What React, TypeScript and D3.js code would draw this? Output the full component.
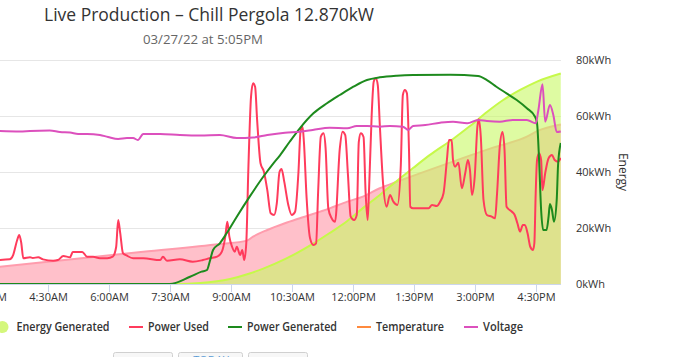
import React from "react";
import * as d3 from "d3";

type Pt = [string, number];

// Cumulative energy used (kWh) – pink area (legend item cropped off)
const energyUsed: Pt[] = [
  ["03:16", 6.1], ["06:51", 11.5], ["08:44", 14.3], ["09:24", 15.5], ["09:33", 16.9],
  ["09:54", 19.3], ["10:20", 21.7], ["10:42", 23.5], ["11:26", 27.0], ["11:52", 29.4],
  ["12:15", 31.2], ["12:40", 34.2], ["13:05", 36.5], ["13:39", 39.5], ["14:38", 44.6],
  ["15:27", 48.7], ["16:17", 52.6], ["16:32", 54.6], ["17:07", 57.0],
];

// Cumulative energy generated (kWh)
const energyGenerated: Pt[] = [
  ["03:16", 0], ["07:38", 0], ["08:15", 0.36], ["08:59", 1.8], ["09:28", 3.75],
  ["09:48", 5.5], ["10:20", 8.9], ["10:38", 11.1], ["11:01", 14.3], ["11:26", 18.2],
  ["11:52", 22.5], ["12:15", 27.1], ["12:40", 31.8], ["13:05", 36.8], ["13:29", 41.4],
  ["13:54", 46.1], ["14:28", 51.8], ["14:53", 56.4], ["15:18", 61.4], ["15:42", 65.7],
  ["16:07", 69.3], ["16:32", 72.3], ["17:07", 75.2],
];

// Power used (kW)
const powerUsed: Pt[] = [
  ["03:16", 1.71], ["03:34", 1.76], ["03:39", 2.07], ["03:45", 3.14], ["03:48", 3.5],
  ["03:51", 2.93], ["03:54", 1.84], ["04:04", 1.91], ["04:08", 1.86], ["04:16", 1.91],
  ["04:23", 1.76], ["04:38", 1.66], ["04:45", 1.71], ["04:53", 2.0], ["05:03", 1.91],
  ["05:07", 2.29], ["05:21", 2.29], ["05:28", 1.95], ["05:37", 1.95], ["05:47", 1.84],
  ["05:58", 1.84], ["06:06", 1.95], ["06:11", 2.64], ["06:14", 4.57], ["06:17", 3.64],
  ["06:21", 2.21], ["06:27", 2.02], ["06:36", 1.84], ["06:51", 1.84], ["07:16", 1.71],
  ["07:20", 1.95], ["07:26", 1.66], ["07:45", 1.76], ["08:04", 1.59], ["08:19", 1.71],
  ["08:29", 1.84], ["08:40", 1.95], ["08:47", 2.31], ["08:52", 3.38], ["08:55", 4.45],
  ["08:58", 3.38], ["09:02", 2.66], ["09:06", 2.31], ["09:09", 2.66], ["09:14", 2.07],
  ["09:17", 2.43], ["09:20", 1.71], ["09:23", 2.93], ["09:26", 8.14], ["09:30", 13.38],
  ["09:33", 14.34], ["09:36", 14.09], ["09:39", 11.71], ["09:44", 8.62], ["09:49", 8.02],
  ["09:54", 6.71], ["09:59", 5.05], ["10:04", 4.93], ["10:08", 5.76], ["10:12", 8.0],
  ["10:15", 8.21], ["10:19", 7.31], ["10:25", 5.64], ["10:30", 4.93], ["10:35", 5.16],
  ["10:40", 8.02], ["10:43", 10.88], ["10:46", 11.24], ["10:48", 10.16], ["10:52", 6.14],
  ["10:57", 3.29], ["11:02", 2.79], ["11:06", 2.91], ["11:09", 6.59], ["11:13", 10.52],
  ["11:17", 10.76], ["11:20", 9.71], ["11:24", 5.41], ["11:29", 4.69], ["11:34", 4.45],
  ["11:41", 9.69], ["11:45", 10.88], ["11:49", 10.64], ["11:53", 7.79], ["11:57", 4.81],
  ["12:02", 4.57], ["12:06", 4.93], ["12:09", 10.16], ["12:12", 10.76], ["12:16", 10.5],
  ["12:19", 6.59], ["12:22", 4.57], ["12:24", 6.57], ["12:28", 12.07], ["12:31", 14.45],
  ["12:34", 14.69], ["12:37", 14.21], ["12:40", 11.36], ["12:45", 7.07], ["12:50", 5.52],
  ["12:55", 6.36], ["13:00", 5.88], ["13:06", 5.64], ["13:11", 8.5], ["13:14", 13.5],
  ["13:17", 13.86], ["13:20", 13.62], ["13:23", 9.69], ["13:25", 5.52], ["13:29", 5.41],
  ["13:39", 5.41], ["13:52", 5.41], ["13:57", 5.64], ["14:04", 5.57], ["14:09", 5.88],
  ["14:14", 6.48], ["14:19", 8.86], ["14:22", 10.29], ["14:26", 10.29], ["14:28", 8.86],
  ["14:31", 8.38], ["14:36", 8.66], ["14:41", 6.84], ["14:46", 7.91], ["14:50", 8.86],
  ["14:53", 8.14], ["14:56", 6.36], ["15:00", 7.66], ["15:04", 11.24], ["15:06", 11.76],
  ["15:09", 10.52], ["15:13", 6.0], ["15:18", 4.93], ["15:25", 4.81], ["15:30", 4.69],
  ["15:33", 6.48], ["15:37", 9.81], ["15:41", 10.86], ["15:44", 9.57], ["15:47", 5.52],
  ["15:55", 5.16], ["15:59", 4.93], ["16:03", 4.34], ["16:07", 3.74], ["16:11", 4.21],
  ["16:14", 4.21], ["16:18", 3.62], ["16:22", 2.66], ["16:26", 2.43], ["16:28", 2.91],
  ["16:30", 6.48], ["16:32", 8.86], ["16:35", 9.34], ["16:38", 8.86], ["16:40", 6.71],
  ["16:44", 7.91], ["16:49", 8.98], ["16:54", 9.21], ["16:58", 8.86], ["17:03", 8.74],
  ["17:07", 9.0],
];

// Power generated (kW)
const powerGenerated: Pt[] = [
  ["03:16", 0], ["07:30", 0], ["08:00", 0.52], ["08:17", 0.88], ["08:25", 1.0],
  ["08:29", 1.59], ["08:34", 2.43], ["08:44", 2.91], ["08:54", 3.62], ["09:09", 4.81],
  ["09:28", 6.24], ["09:48", 7.66], ["10:03", 8.62], ["10:13", 9.21], ["10:27", 10.16],
  ["10:42", 11.12], ["11:02", 12.19], ["11:22", 12.91], ["11:41", 13.5], ["12:01", 14.09],
  ["12:21", 14.57], ["12:40", 14.76], ["13:05", 14.88], ["13:29", 14.93], ["14:24", 14.95],
  ["15:05", 14.86], ["15:18", 14.57], ["15:32", 14.09], ["15:47", 13.62], ["16:02", 13.14],
  ["16:17", 12.55], ["16:29", 11.95], ["16:32", 11.48], ["16:35", 8.86], ["16:38", 5.29],
  ["16:41", 3.86], ["16:46", 3.86], ["16:49", 4.81], ["16:51", 5.71], ["16:54", 5.29],
  ["16:57", 4.45], ["17:01", 6.0], ["17:03", 8.5], ["17:07", 10.07],
];

// Voltage (V)
const voltage: Pt[] = [
  ["03:16", 239.1], ["03:49", 238.3], ["04:04", 239.1], ["04:33", 239.8], ["04:48", 237.5],
  ["05:03", 236.7], ["05:15", 234.4], ["05:28", 234.4], ["05:47", 232.8], ["05:59", 229.7],
  ["06:14", 226.6], ["06:27", 228.1], ["06:36", 228.1], ["06:43", 225.0], ["06:51", 234.4],
  ["07:16", 234.4], ["07:45", 232.8], ["08:15", 232.0], ["08:44", 232.8], ["09:09", 228.1],
  ["09:33", 228.9], ["09:54", 232.8], ["10:20", 236.4], ["10:42", 238.0], ["11:01", 240.6],
  ["11:26", 244.2], ["11:52", 243.3], ["12:06", 246.9], ["12:21", 246.9], ["12:40", 245.8],
  ["12:55", 246.9], ["13:14", 245.8], ["13:22", 240.6], ["13:29", 246.9], ["13:47", 248.4],
  ["14:09", 252.0], ["14:28", 253.6], ["14:49", 251.1], ["15:05", 256.3], ["15:18", 254.7],
  ["15:37", 253.6], ["15:56", 256.3], ["16:17", 256.3], ["16:30", 251.1], ["16:34", 271.9],
  ["16:40", 312.0], ["16:44", 253.6], ["16:51", 279.7], ["16:56", 264.1], ["17:01", 237.5],
  ["17:07", 238.3],
];

const xTickTimes = ["03:00", "04:30", "06:00", "07:30", "09:00", "10:30", "12:00", "13:30", "15:00", "16:30"];
const energyTicks = [0, 20, 40, 60, 80];
const legendNames = ["Energy Generated", "Power Used", "Power Generated", "Temperature", "Voltage"];

const W = 690;
const H = 357;
const PL = 0, PR = 561, PT = 60, PB = 284;
const FONT = "'Open Sans', 'DejaVu Sans', sans-serif";

const C = {
  pinkFill: "#ffc0ca",
  pinkLine: "#ff9cad",
  limeFill: "rgba(200,249,100,0.6)",
  limeLine: "#c6f94a",
  limeLegend: "#d4f77c",
  red: "#ff3b5c",
  green: "#1d8a1d",
  orange: "#ff8a3d",
  magenta: "#dc50bd",
  grid: "#e6e6e6",
  text: "#333333",
};

const parse = (s: string) => {
  const [h, m] = s.split(":").map(Number);
  return new Date(2022, 2, 27, h, m);
};

export default function App() {
  const x = d3.scaleTime().domain([parse("04:30"), parse("16:30")]).range([47.7, 535.7]);
  const yE = d3.scaleLinear().domain([0, 80]).range([PB, PT]);
  const yP = d3.scaleLinear().domain([0, 16]).range([PB, PT]);
  const yV = d3.scaleLinear().domain([0, 350]).range([PB, PT]);
  const fmt = d3.timeFormat("%-I:%M%p");

  const mkLine = (ys: d3.ScaleLinear<number, number>) =>
    d3.line<Pt>().x((d) => x(parse(d[0]))).y((d) => ys(d[1])).curve(d3.curveMonotoneX);
  const mkArea = (ys: d3.ScaleLinear<number, number>) =>
    d3.area<Pt>().x((d) => x(parse(d[0]))).y0(ys(0)).y1((d) => ys(d[1])).curve(d3.curveMonotoneX);

  const legendX = [-4.5, 129, 228, 357, 464];
  const legendTextW = [93, 61, 90, 68, 40];
  const legendColors = [C.limeLegend, C.red, C.green, C.orange, C.magenta];
  const legendY = 327;

  return (
    <svg width={W} height={H} style={{ position: "absolute", left: 0, top: 0, background: "#fff" }} fontFamily={FONT}>
      <defs>
        <clipPath id="plotClip">
          <rect x={PL} y={PT - 20} width={PR - PL} height={PB - PT + 21} />
        </clipPath>
      </defs>

      <text x={44} y={21} fontSize={18} fill={C.text} textLength={330} lengthAdjust="spacingAndGlyphs">
        Live Production – Chill Pergola 12.870kW
      </text>
      <text x={143} y={43.5} fontSize={12} fill="#666" textLength={120} lengthAdjust="spacingAndGlyphs">
        03/27/22 at 5:05PM
      </text>

      {energyTicks.map((t) => (
        <line key={t} x1={PL} x2={PR} y1={Math.round(yE(t)) + 0.5} y2={Math.round(yE(t)) + 0.5} stroke={C.grid} strokeWidth={1} />
      ))}

      {energyTicks.map((t) => (
        <text key={t} x={576} y={yE(t)} dy="0.35em" fontSize={11} fill={C.text}>
          {`${t}kWh`}
        </text>
      ))}
      <text transform={`translate(619,172) rotate(90)`} textAnchor="middle" fontSize={12} fill={C.text}>
        Energy
      </text>

      <g clipPath="url(#plotClip)">
        <path d={mkArea(yE)(energyUsed) || ""} fill={C.pinkFill} />
        <path d={mkLine(yE)(energyUsed) || ""} fill="none" stroke={C.pinkLine} strokeWidth={2} />
        <path d={mkArea(yE)(energyGenerated) || ""} fill={C.limeFill} />
        <path d={mkLine(yE)(energyGenerated) || ""} fill="none" stroke={C.limeLine} strokeWidth={2} />
        <path d={mkLine(yP)(powerUsed) || ""} fill="none" stroke={C.red} strokeWidth={2} strokeLinejoin="round" />
        <path d={mkLine(yP)(powerGenerated) || ""} fill="none" stroke={C.green} strokeWidth={2} strokeLinejoin="round" />
        <path d={mkLine(yV)(voltage) || ""} fill="none" stroke={C.magenta} strokeWidth={2} strokeLinejoin="round" />
      </g>

      <line x1={PL} x2={PR} y1={PB + 0.5} y2={PB + 0.5} stroke="#ccd6eb" strokeWidth={1} />
      {xTickTimes.map((t) => {
        const xx = Math.round(x(parse(t))) + 0.5;
        return (
          <g key={t}>
            <line x1={xx} x2={xx} y1={PB + 1} y2={PB + 8} stroke="#ccd6eb" strokeWidth={1} />
            <text x={xx} y={301} textAnchor="middle" fontSize={11} fill={C.text}>
              {fmt(parse(t))}
            </text>
          </g>
        );
      })}

      {legendNames.map((name, i) => (
        <g key={name}>
          {i === 0 ? (
            <circle cx={legendX[i] + 7} cy={legendY} r={6} fill={legendColors[i]} />
          ) : (
            <line x1={legendX[i]} x2={legendX[i] + 14} y1={legendY} y2={legendY} stroke={legendColors[i]} strokeWidth={2} />
          )}
          <text
            x={legendX[i] + (i === 0 ? 21 : 19)}
            y={legendY}
            dy="0.35em"
            fontSize={12}
            fontWeight={600}
            fill={C.text}
            textLength={legendTextW[i]}
            lengthAdjust="spacingAndGlyphs"
          >
            {name}
          </text>
        </g>
      ))}

      <rect x={113.5} y={352.5} width={59} height={22} rx={2} fill="#f7f7f7" stroke="#d0d0d0" />
      <rect x={178.5} y={352.5} width={64} height={22} rx={2} fill="#f7f7f7" stroke="#d0d0d0" />
      <rect x={248.5} y={352.5} width={59} height={22} rx={2} fill="#f7f7f7" stroke="#d0d0d0" />
      <text x={211} y={364} textAnchor="middle" fontSize={11} fill="#5b9bd5">TODAY</text>
    </svg>
  );
}
